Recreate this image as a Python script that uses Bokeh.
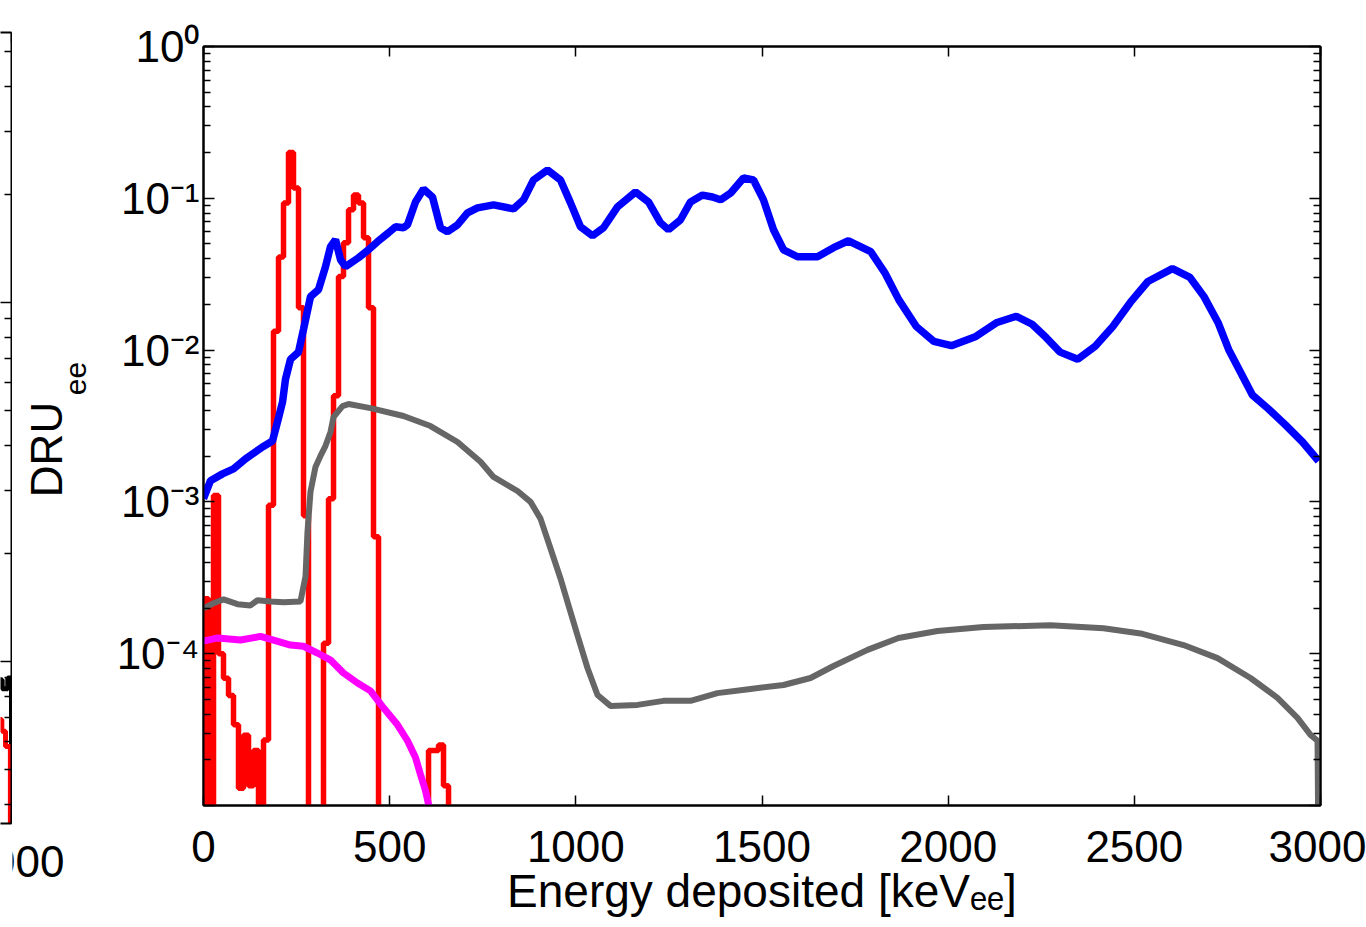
import math
from bokeh.plotting import figure
from bokeh.models import Range1d, LinearAxis, LogAxis, FixedTicker, CustomJSTickFormatter
from bokeh.core.properties import value
from bokeh.layouts import row
from bokeh.embed import file_html
from bokeh.resources import INLINE

FONT = "Liberation Sans"

# ---------------- data (main panel) ----------------
x_ticks = [0, 500, 1000, 1500, 2000, 2500, 3000]
y_ticks = [1e-5, 1e-4, 1e-3, 1e-2, 1e-1, 1.0]
y_label_exps = [-4, -3, -2, -1, 0]
y_label_texts = ["10\u207b\u2074", "10\u207b\u00b3", "10\u207b\u00b2", "10\u207b\u00b9", "10\u2070"]
x_title = "Energy deposited [keV\u2091\u2091]"
y_title_main = "DRU"
y_title_sub = "ee"

blue_x = [0, 18.8, 51, 80.6, 112.8, 158.5, 185.3, 198.7, 212.2, 220.2, 233.7, 255.2,
          268.6, 287.4, 308.9, 327.7, 341.1, 354.6, 368, 381.4, 416.3, 443.2, 467.3,
          496.9, 515.7, 537.2, 547.9, 569.4, 590.9, 615, 636.5, 655.3, 682.2, 709,
          735.9, 778.9, 832.6, 859.5, 886.3, 923.9, 958.8, 985.7, 1012.5, 1044.8,
          1074.3, 1111.9, 1160.3, 1195.2, 1227.4, 1248.9, 1281.1, 1308, 1340.2,
          1367.1, 1388.6, 1415.4, 1450.3, 1477.2, 1504, 1530.9, 1557.8, 1595.4,
          1649.1, 1692.1, 1732.3, 1792.0, 1829.6, 1867.2, 1914.4, 1961.4, 2008.7,
          2074.5, 2131.2, 2183.0, 2225.4, 2263.1, 2300.6, 2347.9, 2394.9, 2442.2,
          2489.2, 2536.4, 2602.3, 2649.5, 2687.1, 2724.7, 2753.2, 2790.8, 2817.4,
          2860.4, 2906, 2951.7, 2994.7]
blue_y = [1.05e-3, 1.38e-3, 1.53e-3, 1.65e-3, 1.92e-3, 2.30e-3, 2.52e-3, 3.36e-3,
          4.54e-3, 6.43e-3, 8.7e-3, 9.7e-3, 1.37e-2, 2.25e-2, 2.5e-2, 3.55e-2, 4.8e-2,
          5.33e-2, 3.94e-2, 3.55e-2, 4.06e-2, 4.58e-2, 5.18e-2, 5.93e-2, 6.49e-2,
          6.39e-2, 6.69e-2, 9.47e-2, 0.115, 0.102, 0.064, 0.0602, 0.0669, 0.0802,
          0.0865, 0.0905, 0.0852, 0.0977, 0.132, 0.1535, 0.132, 0.0933, 0.0649,
          0.0567, 0.064, 0.0878, 0.110, 0.0947, 0.069, 0.0621, 0.0722, 0.0947, 0.105,
          0.102, 0.0977, 0.108, 0.136, 0.132, 0.0977, 0.0621, 0.0458, 0.0412, 0.0412,
          0.0473, 0.0525, 0.0445, 0.0324, 0.0215, 0.0143, 0.0114, 0.0107, 0.0123,
          0.0152, 0.0167, 0.0148, 0.0121, 0.0097, 0.0087, 0.0106, 0.0143, 0.0206,
          0.0283, 0.0344, 0.0301, 0.0225, 0.0152, 0.0101, 0.00673, 0.00505, 0.00409,
          0.00321, 0.00248, 0.00186]

gray_x = [0, 26.9, 53.7, 91.3, 126.2, 145, 180, 214.9, 260.5, 274, 279.3, 287.4, 300.8,
          314.2, 327.7, 341.1, 349.2, 373.3, 389.4, 448.5, 537.2, 609.7, 682.2, 744,
          778.9, 843.3, 878.3, 905.1, 932, 958.8, 980.3, 1004.5, 1031.3, 1058.2,
          1093.1, 1165.6, 1235.5, 1308, 1380.5, 1469.1, 1557.8, 1630.3, 1692.1,
          1783.4, 1866.6, 1971.4, 2094.9, 2274.9, 2417.2, 2516.6, 2632.1, 2723.4,
          2812, 2884.5, 2938.2, 2973.1, 2992, 3000]
gray_y = [1.99e-4, 2.15e-4, 2.28e-4, 2.12e-4, 2.08e-4, 2.25e-4, 2.21e-4, 2.18e-4,
          2.21e-4, 3.23e-4, 6.37e-4, 1.17e-3, 1.70e-3, 2.01e-3, 2.34e-3, 2.89e-3,
          3.62e-3, 4.28e-3, 4.41e-3, 4.15e-3, 3.68e-3, 3.16e-3, 2.48e-3, 1.84e-3,
          1.46e-3, 1.18e-3, 1.0e-3, 7.76e-4, 4.93e-4, 3.13e-4, 2.08e-4, 1.32e-4,
          8.05e-5, 5.35e-5, 4.53e-5, 4.6e-5, 4.89e-5, 4.89e-5, 5.5e-5, 5.86e-5,
          6.22e-5, 6.92e-5, 8.3e-5, 1.06e-4, 1.27e-4, 1.41e-4, 1.50e-4, 1.54e-4,
          1.47e-4, 1.36e-4, 1.14e-4, 9.35e-5, 6.92e-5, 5.12e-5, 3.78e-5, 2.92e-5,
          2.67e-5, 1e-7]

magenta_x = [0, 37.6, 99.4, 153.1, 188, 233.7, 268.6, 306.2, 341.1, 376, 413.6, 448.5,
             483.4, 521, 547.9, 569.4, 582.8, 596.3, 604.3, 612]
magenta_y = [1.21e-4, 1.27e-4, 1.23e-4, 1.30e-4, 1.23e-4, 1.14e-4, 1.12e-4, 1.01e-4,
             9.08e-5, 7.46e-5, 6.41e-5, 5.69e-5, 4.40e-5, 3.40e-5, 2.67e-5, 2.07e-5,
             1.60e-5, 1.25e-5, 1.02e-5, 8.5e-6]

# histogram (stairs): bin left edges and bin values (1e-7 = below the axis)
red_edges = [0, 0, 13.4, 26.9, 40.3, 53.7, 67.2, 80.6, 94.0, 107.4, 120.9, 134.3, 147.7,
             161.2, 174.6, 188.0, 201.5, 214.9, 228.3, 241.7, 255.2, 268.6, 282.0,
             322.3, 335.8, 349.2, 362.6, 376.0, 389.5, 402.9, 416.3, 429.8, 443.2,
             456.6, 470.1, 604.4, 631.2, 644.6, 658.1, 800]
red_vals = [1e-7, 2.3e-4, 1e-7, 1.1e-3, 1.0e-4, 6.9e-5, 5.3e-5, 3.4e-5, 1.3e-5, 2.9e-5,
            1.35e-5, 2.3e-5, 1e-7, 2.7e-5, 9.5e-4, 1.33e-2, 4.1e-2, 9.3e-2, 0.2, 0.117,
            1.9e-2, 8.1e-4, 1e-7, 1.17e-4, 1.05e-3, 5.0e-3, 3.05e-2, 5.1e-2, 8.4e-2,
            0.105, 9.3e-2, 5.5e-2, 1.9e-2, 5.9e-4, 1e-7, 2.3e-5, 2.5e-5, 1.35e-5, 1e-7,
            1e-7]

# ---------------- data (cut-off left panel, only its right edge is visible) ----------------
left_x_tick_label = "3000"
left_y_ticks = [1e-3, 1e-2]
left_red_edges = [2960, 2974, 2984, 2997, 3000]
left_red_vals = [6.9e-4, 6.4e-4, 5.8e-4, 1e-6, 1e-6]
left_black_edges = [2960, 2975, 2990, 3000, 3000]
left_black_vals = [8.9e-4, 8.4e-4, 9.0e-4, 9.0e-4, 1e-6]


def minor_log(lo_exp, hi_exp):
    return [m * 10.0 ** e for e in range(lo_exp, hi_exp) for m in range(2, 10)]


def blank():
    return CustomJSTickFormatter(code="return ''")


def style_axis(ax, ticker, show_labels, major_in=11, minor_in=7):
    ax.ticker = ticker
    ax.axis_line_width = 2
    ax.axis_line_color = "black"
    ax.major_tick_in = major_in
    ax.major_tick_out = 0
    ax.minor_tick_in = minor_in
    ax.minor_tick_out = 0
    ax.major_tick_line_width = 1.5
    ax.minor_tick_line_width = 1.5
    ax.major_tick_line_color = "black"
    ax.minor_tick_line_color = "black"
    ax.major_label_text_font = FONT
    ax.major_label_text_color = "black"
    ax.major_label_text_font_size = "44px"
    ax.axis_label_text_font = FONT
    ax.axis_label_text_font_style = "normal"
    ax.axis_label_text_color = "black"
    ax.axis_label_text_font_size = "46px"
    if show_labels:
        ax.major_label_standoff = 25
    else:
        ax.formatter = blank()
        ax.major_label_standoff = 0


def no_frame_align(fig):
    if "frame_align" in fig.properties():
        fig.frame_align = False


H = 919
F_W = 12      # visible sliver of the left panel
S_W = 83      # strip holding the y title and the cut tick label
M_W = 1366 - F_W - S_W

# ---------------- left (cut-off) panel ----------------
left_bottom = 10 ** -3.451
frag = figure(width=F_W, height=H, x_range=Range1d(2970.5, 3000),
              y_range=Range1d(left_bottom, 10 ** -1.248), y_axis_type="log",
              y_axis_location=None, output_backend="svg", toolbar_location=None,
              min_border_left=0, min_border_right=1, min_border_top=32,
              min_border_bottom=H - 823)
no_frame_align(frag)
frag.outline_line_color = None
frag.grid.visible = False
frag.background_fill_color = "white"
frag.border_fill_color = "white"
style_axis(frag.xaxis[0], FixedTicker(ticks=[3000], minor_ticks=[]), False, 10, 0)
lr = LogAxis()
style_axis(lr, FixedTicker(ticks=left_y_ticks, minor_ticks=minor_log(-4, -1)), False)
frag.add_layout(lr, "right")
la = LinearAxis()
style_axis(la, FixedTicker(ticks=[3000], minor_ticks=[]), False, 10, 0)
frag.add_layout(la, "above")
frag.step(left_black_edges, left_black_vals, mode="after", line_color="black", line_width=5)
frag.step(left_red_edges, left_red_vals, mode="after", line_color="#ff0000", line_width=5)

# ---------------- text strip (y title of the main panel, cut tick label) ----------------
strip = figure(width=S_W, height=H, x_range=Range1d(0, S_W), y_range=Range1d(H, 0),
               output_backend="svg", toolbar_location=None, min_border=0,
               x_axis_location=None, y_axis_location=None)
no_frame_align(strip)
strip.outline_line_color = None
strip.grid.visible = False
strip.background_fill_color = "white"
strip.border_fill_color = "white"
strip.text(x=[34], y=[449], text=[y_title_main], angle=math.pi / 2, text_align="center",
           text_baseline="middle", text_font=value(FONT), text_font_size="44px",
           text_color="black")
strip.text(x=[63], y=[378], text=[y_title_sub], angle=math.pi / 2, text_align="center",
           text_baseline="middle", text_font=value(FONT), text_font_size="30px",
           text_color="black")
strip.text(x=[3], y=[861], text=[left_x_tick_label], text_align="center",
           text_baseline="middle", text_font=value(FONT), text_font_size="44px",
           text_color="black")

# ---------------- main panel ----------------
p = figure(width=M_W, height=H, x_range=Range1d(0, 3000), y_range=Range1d(1e-5, 1),
           y_axis_type="log", output_backend="svg", toolbar_location=None,
           min_border_left=203 - F_W - S_W, min_border_right=1366 - 1320,
           min_border_top=46, min_border_bottom=H - 808)
no_frame_align(p)
p.grid.visible = False
p.outline_line_color = "black"
p.outline_line_width = 2
p.background_fill_color = "white"
p.border_fill_color = "white"

style_axis(p.xaxis[0], FixedTicker(ticks=x_ticks, minor_ticks=[]), True, 10, 0)
p.xaxis[0].axis_label = x_title
p.xaxis[0].axis_label_standoff = 0

yax = p.yaxis[0]
style_axis(yax, FixedTicker(ticks=y_ticks, minor_ticks=minor_log(-5, 0)), True)
yax.formatter = CustomJSTickFormatter(
    args=dict(exps=y_label_exps, texts=y_label_texts),
    code="const i = exps.indexOf(Math.round(Math.log10(tick))); return i < 0 ? '' : texts[i];")
yax.major_label_standoff = 4

top_ax = LinearAxis()
style_axis(top_ax, FixedTicker(ticks=x_ticks, minor_ticks=[]), False, 10, 0)
p.add_layout(top_ax, "above")
right_ax = LogAxis()
style_axis(right_ax, FixedTicker(ticks=y_ticks, minor_ticks=minor_log(-5, 0)), False)
p.add_layout(right_ax, "right")

p.step(red_edges, red_vals, mode="after", line_color="#ff0000", line_width=5.5)
p.line(gray_x, gray_y, line_color="#666666", line_width=6)
p.line(magenta_x, magenta_y, line_color="#ff00ff", line_width=7)
p.line(blue_x, blue_y, line_color="#0000ff", line_width=7.5)

layout = row(frag, strip, p, spacing=0)
open("out.html", "w").write(file_html(layout, INLINE))
